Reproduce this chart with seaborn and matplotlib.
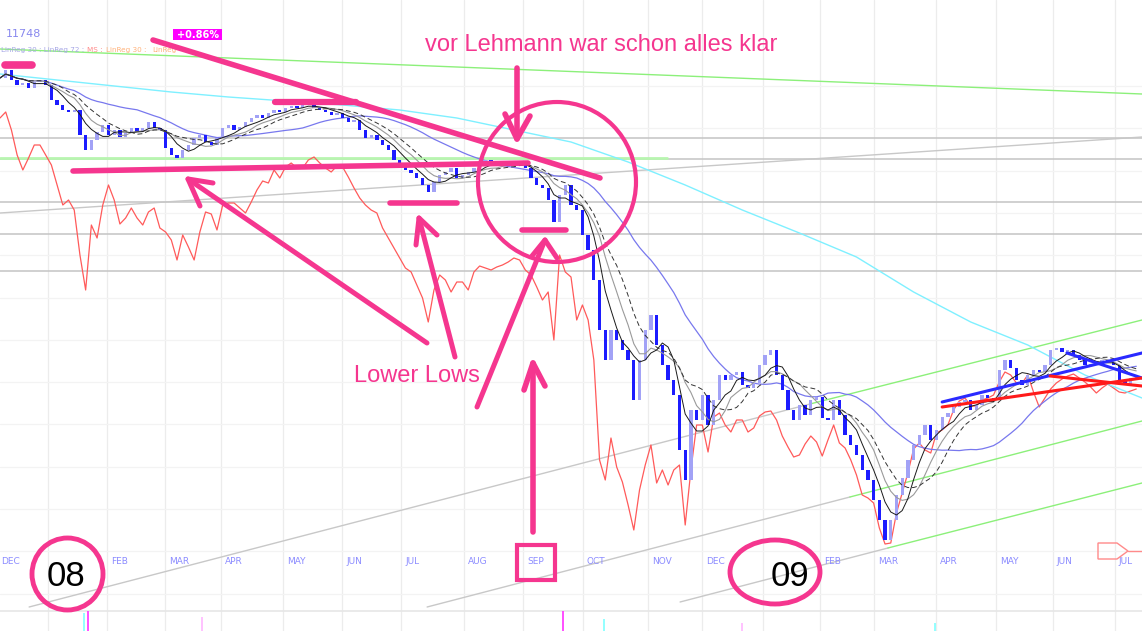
import numpy as np
import pandas as pd
import matplotlib
matplotlib.use("Agg")
import matplotlib.pyplot as plt
import matplotlib.transforms as mtransforms
from matplotlib.patches import Ellipse, Rectangle, Polygon
import seaborn as sns

sns.set_theme(style="white")
plt.rcParams['font.family'] = ['Liberation Sans', 'DejaVu Sans']

# ---------------- data (index points, one value every 2 trading days) ----------------
step_days = 2
close = [622, 630, 620, 615, 617, 612, 618, 620, 615, 600,
         595, 590, 588, 590, 565, 550, 560, 568, 575, 565,
         570, 563, 567, 572, 568, 572, 578, 572, 570, 552,
         545, 542, 550, 555, 562, 565, 558, 555, 562, 572,
         575, 570, 573, 578, 582, 585, 582, 587, 590, 588,
         592, 594, 592, 595, 596, 592, 590, 588, 585, 587,
         582, 578, 580, 570, 562, 565, 560, 555, 550, 540,
         535, 530, 527, 522, 515, 508, 518, 525, 528, 532,
         522, 525, 528, 532, 538, 540, 537, 534, 535, 537,
         538, 535, 532, 522, 515, 512, 500, 478, 505, 515,
         495, 490, 465, 450, 420, 370, 340, 370, 360, 350,
         340, 300, 340, 370, 385, 355, 335, 320, 305, 250,
         220, 290, 280, 305, 275, 300, 325, 320, 325, 328,
         315, 312, 317, 335, 345, 350, 325, 310, 290, 280,
         295, 285, 300, 303, 282, 280, 300, 285, 265, 255,
         245, 230, 220, 200, 180, 160, 180, 205, 222, 240,
         255, 265, 275, 260, 270, 283, 287, 293, 298, 300,
         290, 295, 305, 302, 300, 330, 340, 332, 320, 315,
         325, 330, 328, 335, 350, 352, 348, 350, 345, 340,
         335, 335, 338, 340, 338, 335, 320, 315, 322, 325]

oscillator = [582, 588, 570, 545, 530, 542, 555, 555, 545, 535,
              515, 495, 500, 490, 445, 410, 475, 462, 495, 515,
              500, 476, 482, 492, 482, 475, 488, 492, 472, 468,
              460, 440, 465, 453, 440, 468, 488, 486, 470, 495,
              497, 497, 492, 487, 498, 510, 519, 517, 530, 522,
              533, 537, 532, 532, 540, 543, 537, 532, 528, 534,
              533, 523, 512, 502, 495, 490, 487, 472, 462, 452,
              442, 432, 428, 415, 402, 378, 410, 425, 420, 408,
              418, 418, 410, 428, 434, 432, 430, 433, 435, 438,
              442, 440, 430, 425, 413, 400, 408, 360, 445, 428,
              423, 380, 395, 380, 340, 240, 220, 262, 233, 218,
              195, 170, 210, 235, 255, 217, 230, 215, 230, 235,
              175, 230, 275, 275, 248, 283, 287, 275, 268, 280,
              280, 268, 272, 284, 288, 289, 280, 264, 253, 243,
              245, 256, 264, 258, 244, 260, 275, 257, 252, 240,
              225, 205, 202, 197, 172, 156, 157, 187, 207, 227,
              251, 257, 250, 247, 267, 270, 275, 290, 299, 302,
              294, 294, 300, 302, 305, 318, 328, 325, 317, 317,
              325, 308, 293, 302, 311, 317, 321, 324, 326, 322,
              318, 313, 307, 312, 316, 312, 308, 307, 309, 311]

# long (200-day) average as shown on the chart, read every 20 trading days
ma200_step_days = 20
ma200_read = [626, 620, 614, 608, 603, 599, 595, 590, 582, 570, 558,
              538, 515, 490, 467, 443, 408, 378, 355, 325, 302]

month_start_day = [-3.5, 16.8, 37.5, 57.8, 77.4, 99.1, 119.8, 140.5, 162.5, 183.2,
                   204.2, 227.0, 245.9, 267.3, 287.2, 306.1, 327.8, 348.9, 368.8, 390.5]
month_labels = ['DEC', '', 'FEB', 'MAR', 'APR', 'MAY', 'JUN', 'JUL', 'AUG', 'SEP',
                'OCT', 'NOV', 'DEC', '', 'FEB', 'MAR', 'APR', 'MAY', 'JUN', 'JUL']

support_levels = [562, 541, 498, 466, 429]

# drawn trend lines: (day0, level0, day1, level1)
trend_gray = [(0, 487, 400, 563), (10.2, 93, 283.7, 296), (149.6, 93, 297.7, 203), (238.2, 98, 311, 152)]
trend_green = [(0, 651, 400, 606), (283.7, 296, 400, 380), (297.7, 203, 400, 279), (311, 152, 400, 217)]
trend_blue = [(330, 298, 400, 347), (373.7, 347, 400, 322)]
trend_red = [(330, 293, 400, 322), (367.8, 324, 400, 314)]

volume_day = [29.4, 30.8, 70.8, 197.2, 211.6, 260.0, 327.5]
volume_height = [18, 20, 14, 20, 12, 8, 8]
volume_color = ['#80ffff', '#ff30ff', '#ffb8ff', '#ff30ff', '#80ffff', '#ffb8ff', '#80ffff']

# ---------------- figure ----------------
W, H = 1142, 631
fig = plt.figure(figsize=(W / 100, H / 100), dpi=100)
ax = fig.add_axes([0, 0, 1, 1])
ax.set_xlim(0, 400)
ax.set_ylim(69, 700)
ax.set_axis_off()
fig.patch.set_facecolor('white')

# pixel transform (reference pixel coords, y downwards)
pxT = mtransforms.Affine2D().scale(1 / W, -1 / H).translate(0, 1) + fig.transFigure
xpx = mtransforms.blended_transform_factory(ax.transData, pxT)

# grid
for d in month_start_day:
    ax.axvline(d, color='#ececec', lw=0.9, zorder=0)
for lv in np.arange(106.4, 620, 42.3):
    ax.axhline(lv, color='#f3f3f3', lw=0.9, zorder=0)
ax.axhline(89, color='#e6e6e6', lw=1.2, zorder=0)

# horizontal support lines
for lv in support_levels:
    ax.axhline(lv, color='#c4c4c4', lw=1.1, zorder=1)
ax.plot([0, 233.6], [542, 542], color='#b8f5b0', lw=2, zorder=1)

for (d0, l0, d1, l1) in trend_gray:
    ax.plot([d0, d1], [l0, l1], color='#c8c8c8', lw=1.0, zorder=1)
for (d0, l0, d1, l1) in trend_green:
    ax.plot([d0, d1], [l0, l1], color='#8cf07a', lw=1.0, zorder=1)

days = np.arange(len(close)) * step_days
c = np.array(close, float)

# oscillator
osc_df = pd.DataFrame({'day': days, 'osc': oscillator})
sns.lineplot(data=osc_df, x='day', y='osc', color='#ff5a5a', lw=0.9, ax=ax, legend=False, zorder=2)

# moving averages
s = pd.Series(c)
ma_df = pd.DataFrame({
    'day': days,
    'ma_fast': s.rolling(5, min_periods=1).mean(),
    'ma_mid': s.rolling(8, min_periods=1).mean(),
    'ma_slow': s.rolling(11, min_periods=1).mean(),
    'ma50': s.rolling(25, min_periods=1).mean(),
})
ma200_df = pd.DataFrame({'day': np.arange(len(ma200_read)) * ma200_step_days, 'ma200': ma200_read})
sns.lineplot(data=ma200_df, x='day', y='ma200', color='#7ff0ff', lw=1.0, ax=ax, legend=False, zorder=2)
sns.lineplot(data=ma_df, x='day', y='ma50', color='#7878ee', lw=0.9, ax=ax, legend=False, zorder=2)

# candles
o = np.r_[c[0], c[:-1]]
up = c >= o
bottom = np.minimum(o, c)
height = np.maximum(np.abs(c - o), 1.5)
ax.bar(days[up], height[up], bottom=bottom[up], width=1.15, color='#a2a2f6', edgecolor='none', zorder=3)
ax.bar(days[~up], height[~up], bottom=bottom[~up], width=1.15, color='#1c1cff', edgecolor='none', zorder=3)

sns.lineplot(data=ma_df, x='day', y='ma_mid', color='#9a9a9a', lw=0.8, ax=ax, legend=False, zorder=4)
sns.lineplot(data=ma_df, x='day', y='ma_fast', color='#1a1a1a', lw=0.7, ax=ax, legend=False, zorder=4)
sns.lineplot(data=ma_df, x='day', y='ma_slow', color='#333333', lw=0.7, ax=ax, legend=False, zorder=4)
ax.lines[-1].set_linestyle((0, (5, 3)))

for (d0, l0, d1, l1) in trend_blue:
    ax.plot([d0, d1], [l0, l1], color='#2a2aff', lw=2.2, zorder=5)
for (d0, l0, d1, l1) in trend_red:
    ax.plot([d0, d1], [l0, l1], color='#ff1a1a', lw=2.2, zorder=5)

# volume spikes
ax.vlines(volume_day, 69, [69 + h for h in volume_height], colors=volume_color, lw=1.2, zorder=2)

# month labels
for d, lab in zip(month_start_day, month_labels):
    if lab:
        ax.text(max(d + 1.4, 0.3), 562, lab, transform=xpx, fontsize=6.5, color='#8c8cff',
                ha='left', va='center', family='DejaVu Sans', zorder=6)

# header texts
ax.text(6, 34, '11748', transform=pxT, fontsize=8, color='#8888ee', ha='left', va='center',
        family='DejaVu Sans')
for x0, t, col in [(1, 'LinReg 30 : LinReg 72 :', '#a6a6e6'), (87, 'MS :', '#ff8a8a'),
                   (106, 'LinReg 30 :', '#ffb27a'), (152, 'LinReg', '#ffb27a')]:
    ax.text(x0, 50, t, transform=pxT, fontsize=5.2, color=col, ha='left', va='center',
            family='DejaVu Sans')
ax.add_patch(Rectangle((173, 29), 49, 11, transform=pxT, facecolor='#ff00ff', edgecolor='none', zorder=7))
ax.text(197.5, 34.5, '+0.86%', transform=pxT, fontsize=7, color='white', fontweight='bold',
        ha='center', va='center', family='DejaVu Sans', zorder=8)

# bottom-right price marker
ax.add_patch(Polygon([(1098, 543), (1117, 543), (1128, 551), (1117, 559), (1098, 559)], closed=True,
                     transform=pxT, facecolor='none', edgecolor='#ff8a8a', lw=1.0, zorder=6))
ax.plot([1128, 1142], [551, 551], transform=pxT, color='#ff8a8a', lw=1.0, zorder=6)

# ---------------- pink hand annotations ----------------
PINK = '#f5368f'

def seg(pts, lw=3.8):
    xs, ys = zip(*pts)
    ax.plot(xs, ys, transform=pxT, color=PINK, lw=lw, solid_capstyle='round',
            solid_joinstyle='round', zorder=9)

seg([(5, 65), (32, 65)], lw=5.5)
seg([(153, 40), (600, 178)], lw=4)
seg([(275, 102), (356, 102)], lw=4.5)
seg([(73, 171), (528, 163)], lw=4)
seg([(390, 203), (457, 203)], lw=4)
seg([(522, 230), (566, 230)], lw=4)

# Lehmann down arrow
seg([(517, 68), (517, 139)], lw=4)
seg([(505, 114), (517, 139), (530, 116)], lw=4)

# lower-lows arrows
seg([(427, 343), (188, 179)], lw=3.6)
seg([(213, 183), (188, 179), (200, 206)], lw=3.6)
seg([(455, 357), (419, 218)], lw=3.6)
seg([(416, 245), (419, 218), (437, 235)], lw=3.6)
seg([(477, 407), (545, 240)], lw=3.6)
seg([(532, 256), (545, 240), (557, 258)], lw=3.6)
# up arrow
seg([(533, 532), (533, 363)], lw=4)
seg([(524, 390), (533, 363), (545, 386)], lw=4)

ax.add_patch(Ellipse((557, 182), 158, 160, transform=pxT, facecolor='none', edgecolor=PINK, lw=3, zorder=9))
ax.add_patch(Ellipse((67.5, 574), 71, 72, transform=pxT, facecolor='none', edgecolor=PINK, lw=3.5, zorder=9))
ax.add_patch(Ellipse((775, 572), 90, 64, transform=pxT, facecolor='none', edgecolor=PINK, lw=3.5, zorder=9))
ax.add_patch(Rectangle((517, 545), 38, 35, transform=pxT, facecolor='none', edgecolor=PINK, lw=3, zorder=9))

ax.text(601, 45, 'vor Lehmann war schon alles klar', transform=pxT, fontsize=17, color=PINK,
        ha='center', va='center', zorder=9)
ax.text(417, 376, 'Lower Lows', transform=pxT, fontsize=17, color=PINK, ha='center', va='center', zorder=9)
ax.text(66, 576, '08', transform=pxT, fontsize=25, color='black', ha='center', va='center', zorder=9)
ax.text(790, 577, '09', transform=pxT, fontsize=25, color='black', ha='center', va='center', zorder=9)

fig.savefig('out.png', dpi=100, facecolor='white')
